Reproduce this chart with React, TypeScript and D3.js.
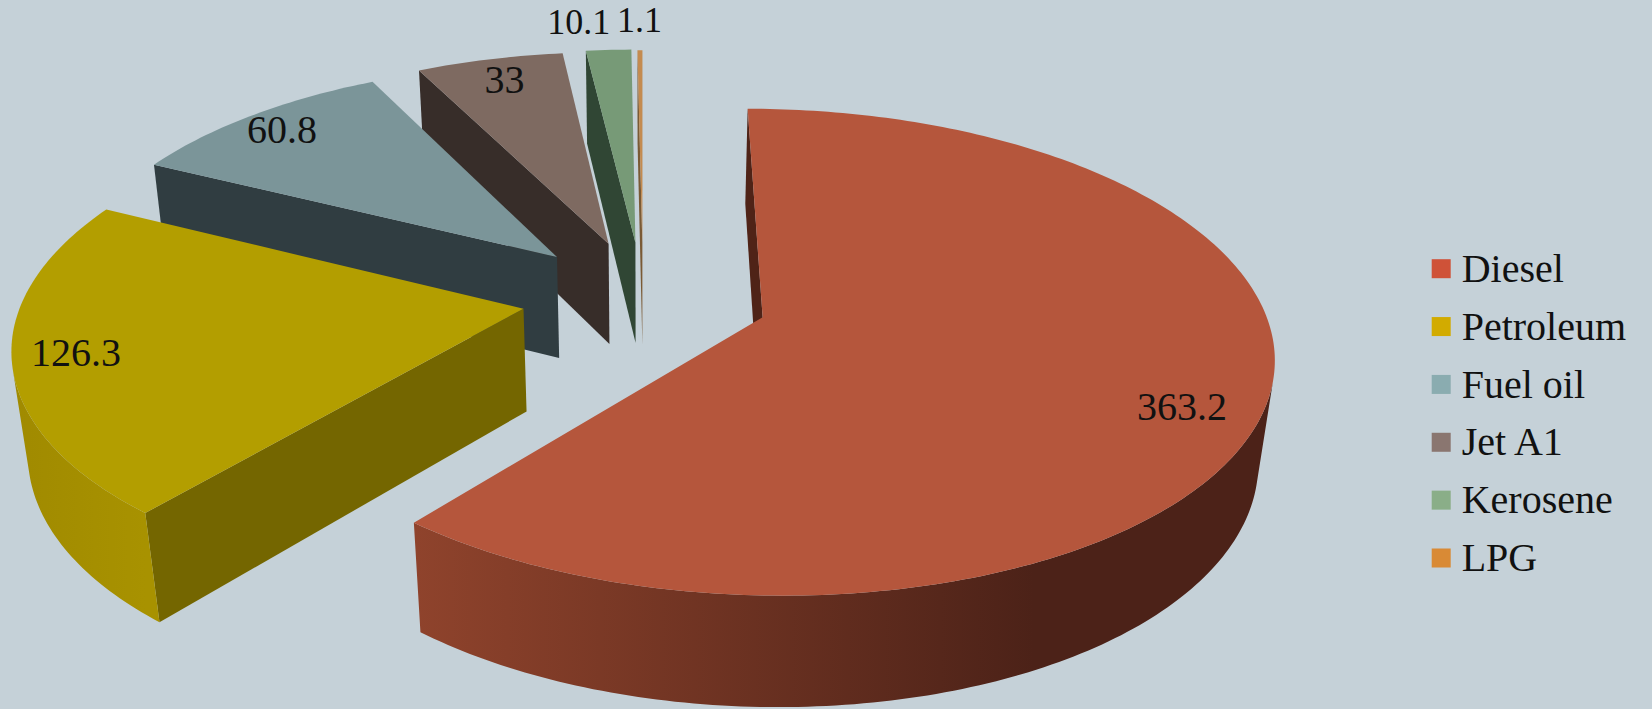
import React from "react";
import * as d3 from "d3";

const categories = ["Diesel", "Petroleum", "Fuel oil", "Jet A1", "Kerosene", "LPG"];
const values = [363.2, 126.3, 60.8, 33, 10.1, 1.1];
const valueLabels = ["363.2", "126.3", "60.8", "33", "10.1", "1.1"];

const topColors = ["#b5563c", "#b39e00", "#7b9599", "#7e6a61", "#779a77", "#c48b4f"];
const wallColors = ["#4f2317", "#746600", "#303d41", "#372d29", "#304634", "#7a5a35"];
const sideFrom = ["#8f432c", "#a08a00", "#566a6e", "#5a4a44", "#557055", "#8a6236"];
const sideTo = ["#4c2218", "#a89200", "#566a6e", "#5a4a44", "#557055", "#8a6236"];
const legendColors = ["#cf5238", "#d2ab00", "#8aacb0", "#8a7670", "#8aae88", "#d98a35"];

const W = 1652, H = 709;
const BG = "#c5d1d8";
const CX = 643, CY = 297, AX = 503, BY = 235, CZ = 105, P = 0.143, Q = 0.026;
const LABEL_FONT = "'Liberation Serif', serif";

// how far each slice is pulled out of the pie, as a share of the radius
const explode = [0.25, 0.241, 0.247, 0.245, 0.24, 0.235];
// radius of each slice, as a share of the pie's radius
const sliceRadius = [0.99, 0.995, 0.985, 0.99, 1, 1];
// radial position of each value label, with a nudge in pixels
const labelRadius = [0.83, 0.873, 0.88, 0.87, 1.17, 1.185];
const labelNudgeX = [0, 0, 0, 2, -26, 0];
const labelNudgeY = [18, 0, 0, 0, 0, 0];
const labelSize = [40, 40, 40, 40, 36, 36];

type Pt = [number, number];

function project(X: number, Y: number, z: number): Pt {
  const w = 1 + P * Y + Q * z;
  return [CX + (AX * X) / w, CY + (-BY * Y + CZ * z) / w];
}

const arcs = d3
  .pie<number>()
  .sort(null)
  .startAngle(0)
  .endAngle(2 * Math.PI)(values);

const line = d3.line<Pt>().curve(d3.curveLinear);

function facesViewer(poly: Pt[]) {
  return d3.polygonArea(poly) > 0;
}

function slicePaths(start: number, end: number, e: number, R: number) {
  const mid = (start + end) / 2;
  const ox = e * Math.sin(mid);
  const oy = e * Math.cos(mid);
  const pt = (th: number, r: number, z: number) =>
    project(ox + r * Math.sin(th), oy + r * Math.cos(th), z);
  const n = Math.max(2, Math.ceil((end - start) * 60));
  const ths = d3.range(n + 1).map((i) => start + ((end - start) * i) / n);
  const topArc = ths.map((t) => pt(t, R, 0));
  const botArc = ths.map((t) => pt(t, R, 1));
  const apexT = pt(0, 0, 0);
  const apexB = pt(0, 0, 1);
  const wallS: Pt[] = [apexT, pt(start, R, 0), pt(start, R, 1), apexB];
  const wallE: Pt[] = [apexB, pt(end, R, 1), pt(end, R, 0), apexT];
  // keep only the part of the rim that turns towards the viewer
  const keep = d3.range(n).filter((i) =>
    facesViewer([topArc[i], topArc[i + 1], botArc[i + 1], botArc[i]])
  );
  const sideD = keep.length
    ? line([
        ...keep.map((i) => topArc[i]),
        topArc[keep[keep.length - 1] + 1],
        botArc[keep[keep.length - 1] + 1],
        ...keep.slice().reverse().map((i) => botArc[i]),
      ])! + "Z"
    : "";
  return {
    top: line([apexT, ...topArc])! + "Z",
    walls: [wallS, wallE].filter(facesViewer).map((w) => line(w)! + "Z"),
    side: sideD,
    xMin: d3.min(topArc, (p) => p[0])!,
    xMax: d3.max(topArc, (p) => p[0])!,
    label: (f: number) => {
      const g = f + e;
      return project(g * Math.sin(mid), g * Math.cos(mid), 0);
    },
  };
}

export default function App() {
  const slices = arcs.map((a, i) =>
    slicePaths(a.startAngle, a.endAngle, explode[i], sliceRadius[i])
  );
  const order = d3.range(values.length).reverse();
  const legendY = d3.scalePoint<string>().domain(categories).range([268.7, 558]);
  return (
    <svg
      width={W}
      height={H}
      viewBox={`0 0 ${W} ${H}`}
      style={{ position: "absolute", left: 0, top: 0, display: "block" }}
    >
      <defs>
        {slices.map((s, i) => (
          <linearGradient
            key={i}
            id={`side${i}`}
            gradientUnits="userSpaceOnUse"
            x1={s.xMin}
            x2={i === 0 ? s.xMin + (s.xMax - s.xMin) * 0.72 : s.xMax}
            y1={0}
            y2={0}
          >
            <stop offset="0%" stopColor={sideFrom[i]} />
            <stop offset="100%" stopColor={sideTo[i]} />
          </linearGradient>
        ))}
      </defs>
      <rect width={W} height={H} fill={BG} />
      {order.map((i) => (
        <g key={categories[i]}>
          {slices[i].walls.map((d, k) => (
            <path key={k} d={d} fill={wallColors[i]} />
          ))}
          {slices[i].side && <path d={slices[i].side} fill={`url(#side${i})`} />}
          <path d={slices[i].top} fill={topColors[i]} />
        </g>
      ))}
      <g fontFamily={LABEL_FONT} fill="#111" textAnchor="middle">
        {slices.map((s, i) => {
          const [x, y] = s.label(labelRadius[i]);
          return (
            <text
              key={i}
              x={x + labelNudgeX[i]}
              y={y + labelNudgeY[i]}
              dy="0.33em"
              fontSize={labelSize[i]}
            >
              {valueLabels[i]}
            </text>
          );
        })}
      </g>
      <g fontFamily={LABEL_FONT} fontSize={40} fill="#111">
        {categories.map((c, i) => (
          <g key={c} transform={`translate(0,${legendY(c)})`}>
            <rect x={1431.7} y={-9.5} width={19} height={19} fill={legendColors[i]} />
            <text x={1461.7} y={0} dy="0.33em">
              {c}
            </text>
          </g>
        ))}
      </g>
    </svg>
  );
}
